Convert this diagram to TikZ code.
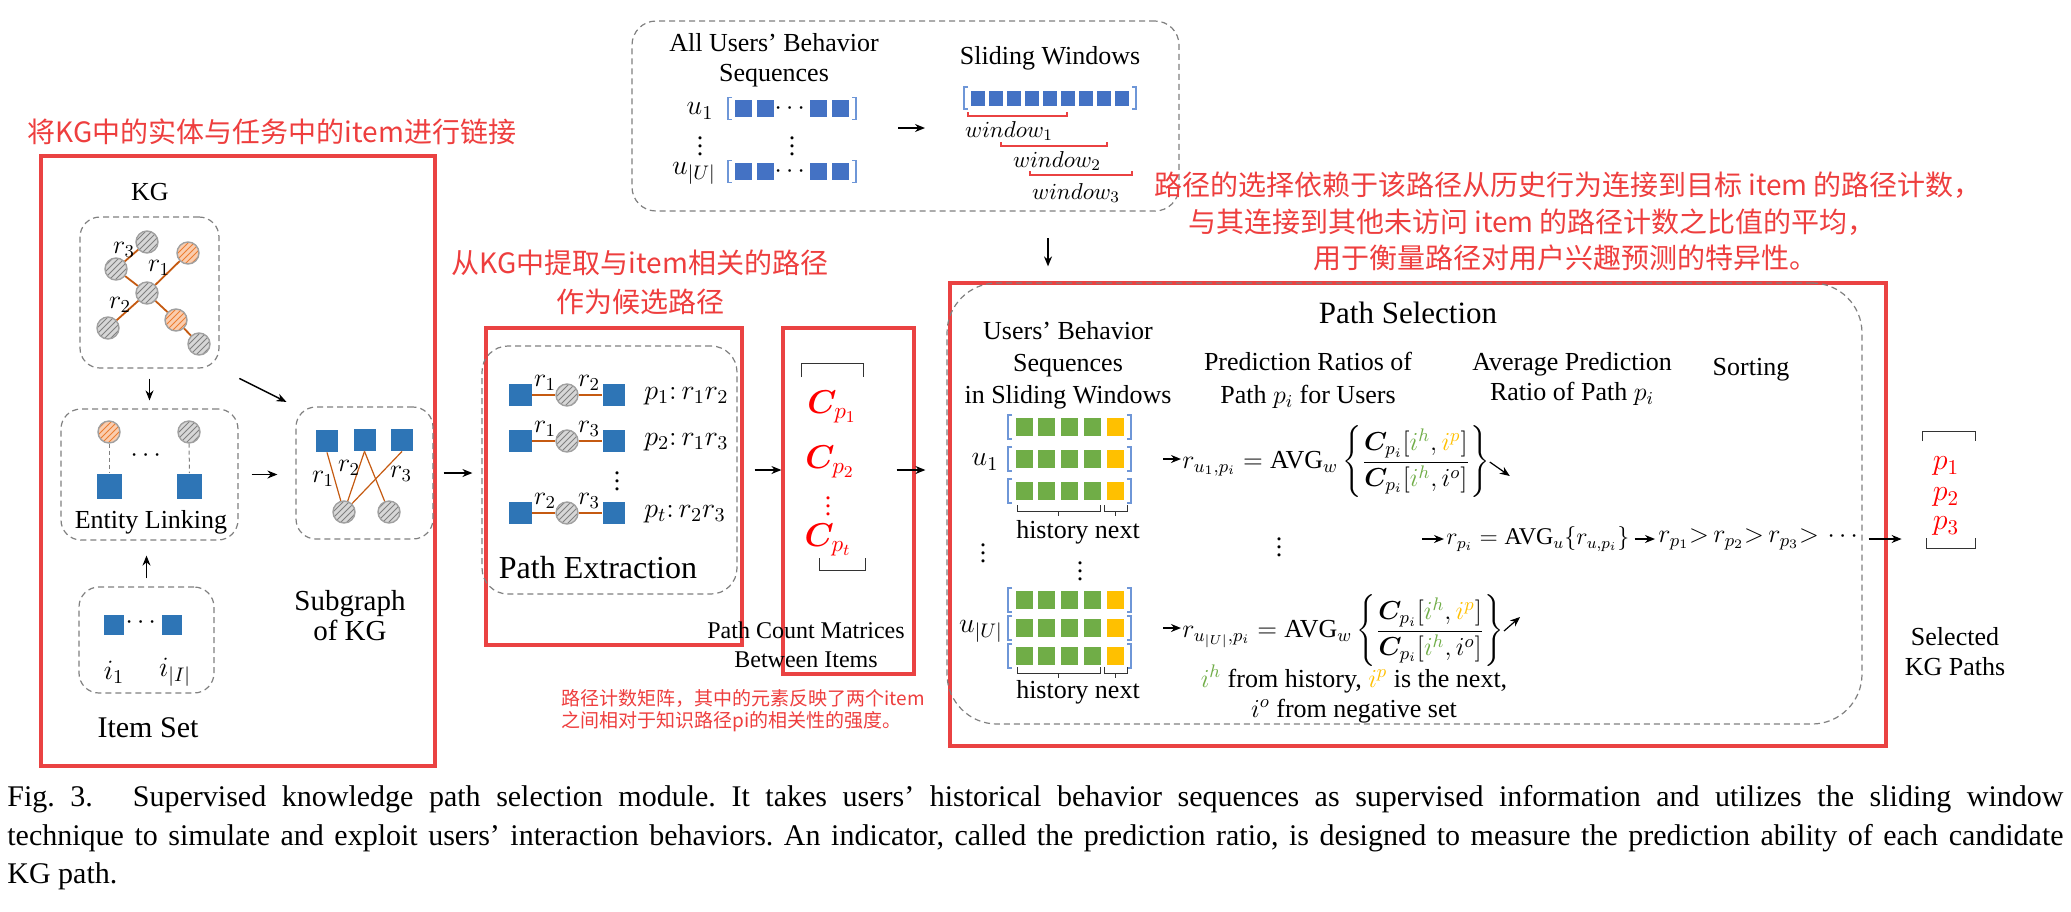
\RequirePackage{fix-cm}
\documentclass[tikz,border=0pt]{standalone}
\usepackage{fontspec}
\setmainfont{Liberation Serif}
\newfontfamily\cjk{Noto Sans CJK SC}
\usepackage{amsmath,bm}
\usetikzlibrary{patterns,arrows.meta,fit}
\definecolor{rbox}{RGB}{234,66,66}
\definecolor{rtext}{RGB}{238,62,62}
\definecolor{pred}{RGB}{255,0,0}
\definecolor{kblue}{RGB}{46,117,182}
\definecolor{sblue}{RGB}{68,114,196}
\definecolor{bblue}{RGB}{110,150,215}
\definecolor{igreen}{RGB}{112,173,71}
\definecolor{iyellow}{RGB}{255,192,0}
\definecolor{eorange}{RGB}{197,90,17}
\definecolor{dgray}{RGB}{128,128,128}
\definecolor{cgray}{RGB}{160,160,160}
\definecolor{cfill}{RGB}{215,215,215}
\definecolor{ofill}{RGB}{250,205,175}
\definecolor{ostripe}{RGB}{237,125,49}
\tikzset{
 dbox/.style={draw=dgray, dash pattern=on 3pt off 2pt, line width=0.6pt, inner sep=0pt},
 rbx/.style={draw=rbox, line width=1.6pt, inner sep=0pt},
 circbase/.style={circle, minimum size=11pt, inner sep=0pt, draw=cgray, line width=0.7pt},
 gc/.style={circbase, preaction={fill=cfill}, pattern=north east lines, pattern color=dgray},
 oc/.style={circbase, preaction={fill=ofill}, pattern=north east lines, pattern color=ostripe},
 bsq/.style={rectangle, fill=kblue, minimum width=#1, minimum height=#1, inner sep=0pt},
 bsq/.default=11pt,
 kedge/.style={draw=eorange, line width=0.9pt},
 sedge/.style={draw=eorange, line width=0.6pt},
 pedge/.style={draw=eorange, line width=0.7pt},
 lnk/.style={draw=dgray, dash pattern=on 2pt off 1.5pt, line width=0.5pt},
 arr/.style={-{Stealth[length=5pt,width=4pt]}, line width=0.75pt},
 lbl/.style={font=\fontsize{13}{15}\selectfont, inner sep=0pt, align=center},
 ml/.style={font=\fontsize{14}{16}\selectfont, inner sep=0pt},
 rlab/.style={font=\fontsize{13}{15}\selectfont, inner sep=0pt},
 rtxt/.style={text=rtext, font=\cjk\fontsize{14}{19.5}\selectfont, inner sep=0pt, align=center},
 cl/.style={text=pred, font=\fontsize{16.5}{18}\selectfont, inner sep=0pt},
 fm/.style={font=\fontsize{13}{15}\selectfont, inner sep=0pt},
 brk/.style={draw=bblue, line width=0.7pt},
 wline/.style={draw=rbox, line width=0.6pt},
 wlab/.style={font=\fontsize{11.5}{13}\selectfont, inner sep=0pt},
 thinblk/.style={draw=black!80, line width=0.5pt},
}
\begin{document}
\begin{tikzpicture}[x=0.5pt,y=-0.5pt]
\useasboundingbox (0,0) rectangle (2071,911);
\fill[white] (0,0) rectangle (2071,911);

% ---------------- left part ----------------
\node[rtxt] (tlink) at (272,132) {将KG中的实体与任务中的item进行链接};
\node[rbx, fit={(41,156) (435,766)}] (lred) {};
\node[lbl] (kglab) at (150,192) {KG};
\node[dbox, rounded corners=10pt, fit={(80,217) (219,368)}] (kgbox) {};
\node[gc] (k1) at (147,242) {};
\node[gc] (k2) at (116,269) {};
\node[oc] (k3) at (188,253) {};
\node[gc] (k4) at (147,293) {};
\node[gc] (k5) at (108,328) {};
\node[oc] (k6) at (176,320) {};
\node[gc] (k7) at (199,344) {};
\draw[kedge] (k2) -- (k1);
\draw[kedge] (k2) -- (k4);
\draw[kedge] (k4) -- (k3);
\draw[kedge] (k4) -- (k5);
\draw[kedge] (k4) -- (k6);
\draw[kedge] (k6) -- (k7);
\node[rlab] (kr3) at (124,250) {$r_3$};
\node[rlab] (kr1) at (159,268) {$r_1$};
\node[rlab] (kr2) at (120,305) {$r_2$};

\node[dbox, rounded corners=10pt, fit={(61,409) (238,540)}] (elbox) {};
\node[oc] (e1) at (109,432) {};
\node[gc] (e2) at (189,432) {};
\node[bsq=12.5pt] (es1) at (109,486) {};
\node[bsq=12.5pt] (es2) at (189.5,486) {};
\draw[lnk] (e1) -- (es1);
\draw[lnk] (e2) -- (es2);
\node[lbl] (edots) at (148,456) {$\cdots$};
\node[lbl] (ellab) at (151,522) {Entity Linking};

\node[dbox, rounded corners=10pt, fit={(79,587) (214,693)}] (itbox) {};
\node[bsq=10pt] (is1) at (114,625) {};
\node[bsq=10pt] (is2) at (172,625) {};
\node[lbl] (idots) at (143,623) {$\cdots$};
\node[ml] (il1) at (114,672) {$i_1$};
\node[ml] (il2) at (175,672) {$i_{|I|}$};
\node[lbl, font=\fontsize{15}{17}\selectfont] (itlab) at (148,728) {Item Set};

\node[dbox, rounded corners=10pt, fit={(296,407) (433,539)}] (sgbox) {};
\node[bsq] (s1) at (327,441) {};
\node[bsq] (s2) at (364.5,440) {};
\node[bsq] (s3) at (402,440) {};
\node[gc] (c1) at (344,512) {};
\node[gc] (c2) at (389,512) {};
\draw[sedge] (s1.south) -- (c1);
\draw[sedge] (s2.south) -- (c1);
\draw[sedge] (s2.south) -- (c2);
\draw[sedge] (s3.south) -- (c1);
\node[rlab] (sr1) at (323,479) {$r_1$};
\node[rlab] (sr2) at (349,468) {$r_2$};
\node[rlab] (sr3) at (401,474) {$r_3$};
\node[lbl, font=\fontsize{14.5}{15}\selectfont] (sglab) at (350,616) {Subgraph\\of KG};

% ---------------- path extraction ----------------
\node[rtxt] (tpe) at (640,282) {从KG中提取与item相关的路径\\作为候选路径};
\node[rbx, fit={(486,328) (742,645)}] (pered) {};
\node[dbox, rounded corners=13pt, fit={(482,346) (737,594)}] (pebox) {};
\foreach \ry/\ra/\rb/\pl/\nm in {395/1/2/1/a, 441/1/3/2/b, 513/2/3/t/c}{
  \node[bsq=11.25pt] (pa\nm) at (520.5,\ry) {};
  \node[gc] (pc\nm) at (567,\ry) {};
  \node[bsq=11.25pt] (pb\nm) at (614,\ry) {};
  \draw[pedge] (pa\nm) -- (pc\nm);
  \draw[pedge] (pc\nm) -- (pb\nm);
  \node[rlab] (pra\nm) at (545,\ry-12) {$r_\ra$};
  \node[rlab] (prb\nm) at (589,\ry-12) {$r_\rb$};
  \node[ml, anchor=west] (pp\nm) at (644,\ry+1) {$p_\pl{:}\,r_\ra r_\rb$};
}
\node[lbl] (pevd) at (617,475) {$\vdots$};
\node[lbl, font=\fontsize{16}{18}\selectfont] (pelab) at (598,568) {Path Extraction};

% ---------------- count matrices ----------------
\node[rbx, fit={(783,328) (914,674)}] (cbox) {};
\draw[thinblk] (801,377) -- (801,363) -- (863,363) -- (863,377);
\node[cl] (cp1) at (832,407) {$\bm{C}_{p_1}$};
\node[cl] (cp2) at (830,462) {$\bm{C}_{p_2}$};
\node[cl, font=\fontsize{13}{15}\selectfont] (cvd) at (828,500) {$\vdots$};
\node[cl] (cpt) at (828,540) {$\bm{C}_{p_t}$};
\draw[thinblk] (819,558) -- (819,570) -- (865,570) -- (865,558);
\node[lbl, font=\fontsize{12}{14.5}\selectfont] (pcm) at (806,645) {Path Count Matrices\\Between Items};
\node[rtxt, font=\cjk\fontsize{9.5}{11}\selectfont, align=left, anchor=west] (note) at (561,711) {路径计数矩阵，其中的元素反映了两个item\\之间相对于知识路径pi的相关性的强度。};

% ---------------- top box ----------------
\node[dbox, rounded corners=12pt, fit={(632,21) (1179,211)}] (topbox) {};
\node[lbl] (allseq) at (774,60) {All Users’ Behavior\\Sequences};
\foreach \ry/\nm in {108.5/a, 171.5/b}{
  \draw[brk] (732,\ry-11) -- (728,\ry-11) -- (728,\ry+11) -- (732,\ry+11);
  \draw[brk] (852,\ry-11) -- (856,\ry-11) -- (856,\ry+11) -- (852,\ry+11);
  \foreach \sx in {743.5,765,818.5,840.5}{\fill[sblue] (\sx-8.5,\ry-8.5) rectangle (\sx+8.5,\ry+8.5);}
  \node[lbl] (sd\nm) at (792,\ry) {$\cdots$};
}
\node[ml] (tu1) at (700,111) {$u_1$};
\node[ml] (tuu) at (694,173) {$u_{|U|}$};
\node[lbl] (tv1) at (700,140) {$\vdots$};
\node[lbl] (tv2) at (792,140) {$\vdots$};
\node[lbl] (slw) at (1050,58) {Sliding Windows};
\draw[brk] (968,87) -- (964,87) -- (964,109) -- (968,109);
\draw[brk] (1132,87) -- (1136,87) -- (1136,109) -- (1132,109);
\foreach \k in {0,...,8}{\fill[sblue] ({978+18*\k-7},91) rectangle ({978+18*\k+7},106);}
\draw[wline] (968,112) -- (968,116) -- (1067,116) -- (1067,112);
\node[wlab] (w1) at (1009,131) {$window_1$};
\draw[wline] (1001,142) -- (1001,146) -- (1107,146) -- (1107,142);
\node[wlab] (w2) at (1057,161) {$window_2$};
\draw[wline] (1030,171) -- (1030,175) -- (1132,175) -- (1132,171);
\node[wlab] (w3) at (1076,193) {$window_3$};
\coordinate (ta0) at (898,128);
\coordinate (ta1) at (925,128);
\draw[arr] (ta0) -- (ta1);

% ---------------- path selection ----------------
\node[rtxt] (tps1) at (1568,185) {路径的选择依赖于该路径从历史行为连接到目标 item 的路径计数，};
\node[rtxt] (tps2) at (1532,222) {与其连接到其他未访问 item 的路径计数之比值的平均，};
\node[rtxt] (tps3) at (1565,258) {用于衡量路径对用户兴趣预测的特异性。};
\node[rbx, fit={(950,283) (1886,746)}] (psred) {};
\node[dbox, rounded corners=25pt, fit={(947,283) (1862,724)}] (psbox) {};
\node[lbl, font=\fontsize{15.5}{17}\selectfont] (pstitle) at (1408,313) {Path Selection};
\node[lbl, font=\fontsize{13}{16}\selectfont] (h1) at (1068,365) {Users’ Behavior\\Sequences\\in Sliding Windows};
\node[lbl, font=\fontsize{13}{16.5}\selectfont] (h2) at (1308,380) {Prediction Ratios of\\Path $p_i$ for Users};
\node[lbl, font=\fontsize{13}{15}\selectfont] (h3) at (1572,379) {Average Prediction\\Ratio of Path $p_i$};
\node[lbl] (h4) at (1751,370) {Sorting};

\foreach \gy/\gs/\gn/\ul/\ux/\oa/\ob/\oc/\od in {459/32/a/{u_1}/985/14/20/25/41, 628/28/b/{u_{|U|}}/981/11/17/22/36}{
  \foreach \k in {-1,0,1}{
    \pgfmathsetmacro\ry{\gy+\k*\gs}
    \draw[brk] (1012,\ry-12) -- (1008,\ry-12) -- (1008,\ry+12) -- (1012,\ry+12);
    \draw[brk] (1127,\ry-12) -- (1131,\ry-12) -- (1131,\ry+12) -- (1127,\ry+12);
    \foreach \sx in {1024,1046.75,1069.5,1092.25}{
      \fill[igreen] (\sx-8.5,\ry-9) rectangle (\sx+8.5,\ry+9);}
    \fill[iyellow] (1106.5,\ry-9) rectangle (1123.5,\ry+9);
  }
  \pgfmathsetmacro\bo{\gy+\gs+\oa}
  \pgfmathsetmacro\bt{\gy+\gs+\ob}
  \pgfmathsetmacro\bq{\gy+\gs+\oc}
  \pgfmathsetmacro\bh{\gy+\gs+\od}
  \draw[thinblk] (1017,\bo) -- (1017,\bt) -- (1100,\bt) -- (1100,\bo) (1058.5,\bt) -- (1058.5,\bq);
  \draw[thinblk] (1104,\bo) -- (1104,\bt) -- (1127,\bt) -- (1127,\bo) (1115.5,\bt) -- (1115.5,\bq);
  \node[lbl] (hn\gn) at (1078,\bh) {history next};
  \node[ml] (ul\gn) at (\ux,\gy+3) {$\ul$};
  \node[inner sep=0pt, fit={(1008,\gy-\gs-12) (1131,\gy+\gs+12)}] (grp\gn) {};
}
\node[lbl] (uvd) at (983,547) {$\vdots$};
\node[lbl] (hvd) at (1080,565) {$\vdots$};

\node[fm, anchor=west] (f1) at (1182,462) {$r_{u_1,p_i}=\text{AVG}_w\left\{\dfrac{\bm{C}_{p_i}[{\color{igreen}i^h},{\color{iyellow}i^p}]}{\bm{C}_{p_i}[{\color{igreen}i^h},i^o]}\right\}$};
\node[fm, anchor=west] (f2) at (1182,631) {$r_{u_{|U|},p_i}=\text{AVG}_w\left\{\dfrac{\bm{C}_{p_i}[{\color{igreen}i^h},{\color{iyellow}i^p}]}{\bm{C}_{p_i}[{\color{igreen}i^h},i^o]}\right\}$};
\node[lbl] (fvd) at (1279,541) {$\vdots$};
\node[fm, align=center] (leg) at (1354,694) {${\color{igreen}i^h}$ from history, ${\color{iyellow}i^p}$ is the next,\\$i^o$ from negative set};
\coordinate (d1) at ([shift={(20,14)}]f1.east);
\coordinate (d2) at ([shift={(16,-14)}]f2.east);
\coordinate (m0) at (1422,539);
\node[fm, font=\fontsize{12}{14}\selectfont, anchor=west] (rp) at (1446,539) {$r_{p_i}=\text{AVG}_u\{r_{u,p_i}\}$};
\node[fm, anchor=west] (srt) at (1658,539) {$r_{p_1}{>}\,r_{p_2}{>}\,r_{p_3}{>}\,\cdots$};

% selected paths
\draw[thinblk] (1922,441) -- (1922,431) -- (1975,431) -- (1975,441);
\node[cl, font=\fontsize{15}{17}\selectfont] (sp1) at (1946,466) {$p_1$};
\node[cl, font=\fontsize{15}{17}\selectfont] (sp2) at (1946,497) {$p_2$};
\node[cl, font=\fontsize{15}{17}\selectfont] (sp3) at (1946,526) {$p_3$};
\draw[thinblk] (1926,538) -- (1926,548) -- (1975,548) -- (1975,538);
\node[inner sep=0pt, fit={(1922,431) (1975,548)}] (selb) {};
\node[lbl] (sellab) at (1955,652) {Selected\\KG Paths};

% ---------------- connectors ----------------
\draw[arr, shorten <=5pt, shorten >=4pt] (kgbox.south) -- (elbox.north);
\draw[arr, shorten <=4pt, shorten >=7.5pt] (itbox.north) -- (itbox.north |- elbox.south);
\draw[arr, shorten <=6.5pt, shorten >=9pt] (elbox.east) -- (elbox.east -| sgbox.west);
\draw[arr, shorten <=11pt, shorten >=5pt] (kgbox.south east) -- (sgbox.north west);
\draw[arr, shorten <=5pt, shorten >=4.5pt] (sgbox.east) -- (sgbox.east -| pebox.west);
\coordinate (yl) at (0,470);
\draw[arr, shorten <=5.5pt] (pered.east |- yl) -- (cbox.west |- yl);
\draw[arr, shorten <=-9.5pt, shorten >=11.5pt] (cbox.east |- yl) -- (psred.west |- yl);
\coordinate (pa0) at (1048,238);
\draw[arr, shorten >=7.5pt] (pa0) -- (pa0 |- psred.north);
\draw[arr, shorten <=16pt, shorten >=0.5pt] (grpa.east) -- (grpa.east -| f1.west);
\draw[arr, shorten <=16pt, shorten >=0.5pt] (grpb.east) -- (grpb.east -| f2.west);
\draw[arr, line width=0.6pt] (f1.east) -- (d1);
\draw[arr, line width=0.6pt] (f2.east) -- (d2);
\draw[arr, shorten >=1pt] (m0) -- (rp.west);
\draw[arr, shorten <=2.5pt, shorten >=1.5pt] (rp.east) -- (srt.west);
\draw[arr, shorten <=3pt, shorten >=10pt] (srt.east) -- (srt.east -| selb.west);

% ---------------- caption ----------------
\node[anchor=north west, inner sep=0pt, text width=1028pt, align=justify, font=\fontsize{15}{19.3}\selectfont] (cap) at (7,785) {\frenchspacing Fig.~3.\hspace{20pt}Supervised knowledge path selection module. It takes users’ historical behavior sequences as supervised information and utilizes the sliding window\linebreak technique to simulate and exploit users’ interaction behaviors. An indicator, called the prediction ratio, is designed to measure the prediction ability of each candidate\linebreak KG path.};
\end{tikzpicture}
\end{document}
